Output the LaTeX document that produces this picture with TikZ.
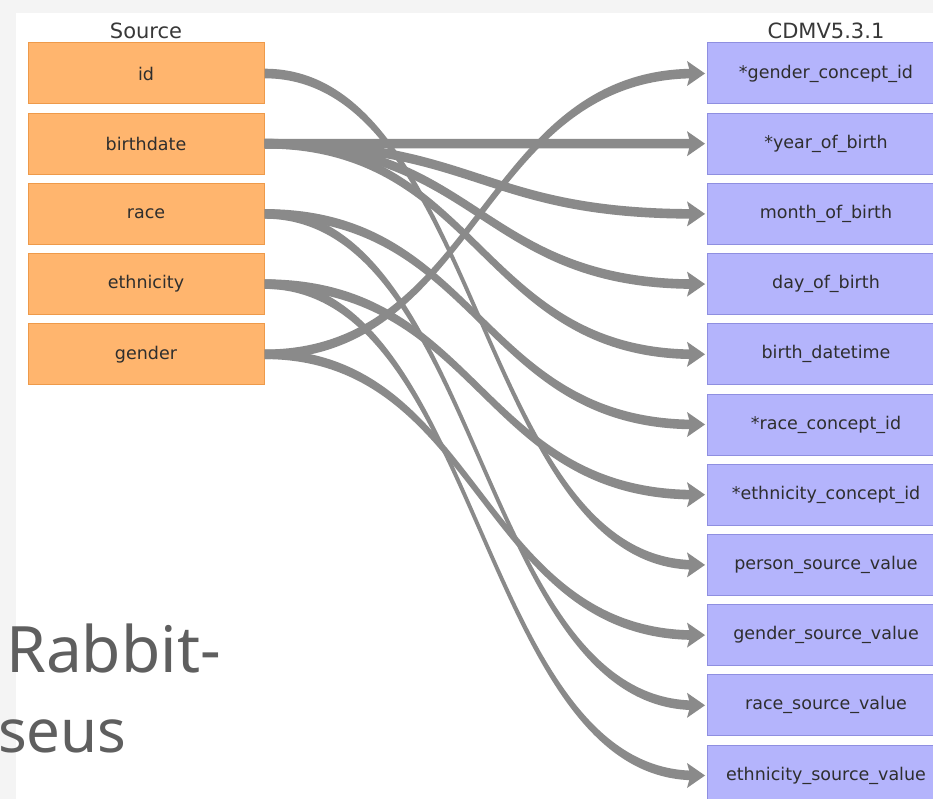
\documentclass[tikz,border=0pt]{standalone}
\usepackage{fontspec}
\setmainfont{DejaVu Sans}
\newfontfamily\slidefont{Noto Sans}
\usetikzlibrary{calc}

\definecolor{srcfill}{HTML}{FFB56E}
\definecolor{srcdraw}{HTML}{EE9A4A}
\definecolor{tgtfill}{HTML}{B4B4FC}
\definecolor{tgtdraw}{HTML}{8F8FE0}
\definecolor{linkgray}{HTML}{8A8A8A}
\definecolor{slidegray}{HTML}{F4F4F4}
\definecolor{slidetext}{HTML}{5F5F5F}

% band of constant vertical height from a source field to a target field
\newcommand\maplink[2]{%
  \coordinate (lk0) at (#1.east);
  \coordinate (lk3) at ($(#2.west)+(-11,0)$);
  \coordinate (lkm) at ($(lk0)!0.5!(lk3)$);
  \coordinate (lk1) at (lkm |- lk0);
  \coordinate (lk2) at (lkm |- lk3);
  \fill[linkband] ($(lk0)+(0,-4.8)$) .. controls ($(lk1)+(0,-4.8)$) and ($(lk2)+(0,-4.8)$) .. ($(lk3)+(0,-4.8)$)
     -- ($(lk3)+(0,4.8)$) .. controls ($(lk2)+(0,4.8)$) and ($(lk1)+(0,4.8)$) .. ($(lk0)+(0,4.8)$) -- cycle;
  \fill[linkband] ($(#2.west)+(-1.5,0)$) -- ++(-18,-12.5) -- ++(3.5,12.5) -- ++(-3.5,12.5) -- cycle;
}

\begin{document}
\begin{tikzpicture}[x=1pt,y=-1pt,
  field/.style={minimum height=61pt, inner sep=0pt,
    font=\fontsize{17.5}{20}\selectfont, text=black!82, line width=1pt},
  srcfield/.style={field, minimum width=236pt, fill=srcfill, draw=srcdraw},
  tgtfield/.style={field, minimum width=238pt, fill=tgtfill, draw=tgtdraw},
  coltitle/.style={font=\fontsize{21}{24}\selectfont, text=black!78, inner sep=0pt},
  linkband/.style={fill=linkgray},
  slideline/.style={font=\slidefont, text=slidetext, inner sep=0pt},
]
\useasboundingbox (0,0) rectangle (933,799);
\clip (0,0) rectangle (933,799);

% slide background and the white panel
\fill[slidegray] (0,0) rectangle (933,799);
\fill[white] (16,13) rectangle (933,799);

% slide title text behind the panel
\node[slideline, anchor=base west, font=\slidefont\fontsize{64}{70}\selectfont] (t1) at (6,672) {Rabbit-};
\node[slideline, anchor=base west, font=\slidefont\fontsize{60}{66}\selectfont] (t2) at (-2,752) {seus};

% column titles
\node[coltitle] (srctitle) at (146,31) {Source};
\node[coltitle] (tgttitle) at (826,31) {CDMV5.3.1};

% source fields
\node[srcfield] (s1) at (146,73.5)  {id};
\node[srcfield] (s2) at (146,143.7) {birthdate};
\node[srcfield] (s3) at (146,213.9) {race};
\node[srcfield] (s4) at (146,284.1) {ethnicity};
\node[srcfield] (s5) at (146,354.3) {gender};

% target fields
\node[tgtfield] (c1)  at (826,73.5)  {*gender\_concept\_id};
\node[tgtfield] (c2)  at (826,143.7) {*year\_of\_birth};
\node[tgtfield] (c3)  at (826,213.9) {month\_of\_birth};
\node[tgtfield] (c4)  at (826,284.1) {day\_of\_birth};
\node[tgtfield] (c5)  at (826,354.3) {birth\_datetime};
\node[tgtfield] (c6)  at (826,424.5) {*race\_concept\_id};
\node[tgtfield] (c7)  at (826,494.7) {*ethnicity\_concept\_id};
\node[tgtfield] (c8)  at (826,564.9) {person\_source\_value};
\node[tgtfield] (c9)  at (826,635.1) {gender\_source\_value};
\node[tgtfield] (c10) at (826,705.3) {race\_source\_value};
\node[tgtfield] (c11) at (826,775.5) {ethnicity\_source\_value};

% field mappings
\maplink{s1}{c8}
\maplink{s2}{c2}
\maplink{s2}{c3}
\maplink{s2}{c4}
\maplink{s2}{c5}
\maplink{s3}{c6}
\maplink{s3}{c10}
\maplink{s4}{c7}
\maplink{s4}{c11}
\maplink{s5}{c1}
\maplink{s5}{c9}
\end{tikzpicture}
\end{document}
